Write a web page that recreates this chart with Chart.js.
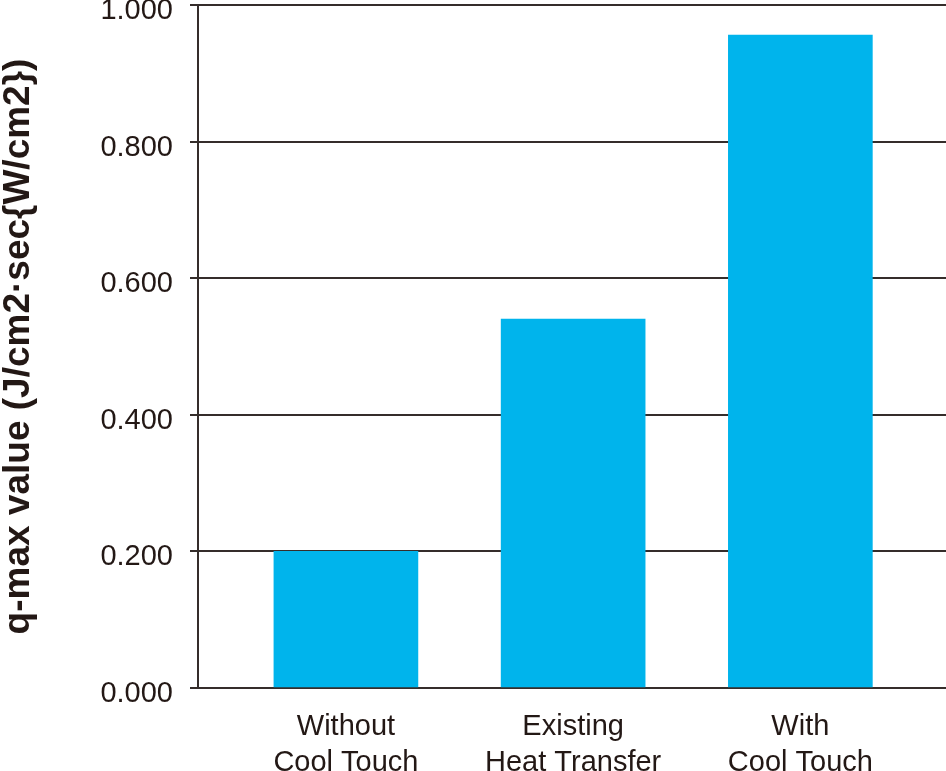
<!DOCTYPE html>
<html>
<head>
<meta charset="utf-8">
<script src="https://cdn.jsdelivr.net/npm/chart.js@4.4.1/dist/chart.umd.min.js"></script>
<style>
  html, body { margin: 0; padding: 0; background: #fff; }
  #wrap { width: 946px; height: 771px; }
</style>
</head>
<body>
<div id="wrap"><canvas id="chart" width="946" height="771"></canvas></div>
<script>
const categories = [
    ["Without", "Cool Touch"],
    ["Existing", "Heat Transfer"],
    ["With", "Cool Touch"]
];
const qmaxValues = [0.200, 0.540, 0.956];
const yTicks = [0, 0.2, 0.4, 0.6, 0.8, 1.0];

const ink = '#231815';
const lineColor = '#352d2b';

const ctx = document.getElementById('chart').getContext('2d');

new Chart(ctx, {
    type: 'bar',
    data: {
        datasets: [{
            label: 'q-max',
            data: qmaxValues.map((v, i) => ({ x: i, y: v })),
            backgroundColor: '#00b4ec',
            borderWidth: 0,
            barThickness: 144
        }]
    },
    options: {
        responsive: false,
        animation: false,
        layout: { padding: { top: 5, right: 0, left: 0, bottom: 0 } },
        plugins: {
            legend: { display: false },
            tooltip: { enabled: false }
        },
        scales: {
            x: {
                type: 'linear',
                offset: false,
                min: -0.651,
                max: 2.641,
                grid: { display: false },
                border: { display: false },
                afterBuildTicks: (scale) => {
                    scale.ticks = categories.map((c, i) => ({ value: i }));
                },
                afterFit: (scale) => {
                    scale.height = 83;
                    scale.paddingLeft = 0;
                    scale.paddingRight = 0;
                },
                ticks: {
                    autoSkip: false,
                    maxRotation: 0,
                    padding: 13,
                    color: ink,
                    font: { family: 'Liberation Sans, Arial, sans-serif', size: 29, lineHeight: '36px' },
                    callback: (v) => categories[v]
                }
            },
            y: {
                min: 0,
                max: 1,
                afterBuildTicks: (scale) => {
                    scale.ticks = yTicks.map(v => ({ value: v }));
                },
                afterFit: (scale) => {
                    scale.width = 198;
                    scale.paddingTop = 0;
                    scale.paddingBottom = 0;
                },
                grid: {
                    color: lineColor,
                    lineWidth: 2,
                    tickLength: 8,
                    drawTicks: true
                },
                border: { display: true, color: lineColor, width: 2 },
                ticks: {
                    padding: 17,
                    labelOffset: 6,
                    color: ink,
                    font: { family: 'Liberation Sans, Arial, sans-serif', size: 29 },
                    callback: (v) => Number(v).toFixed(3)
                },
                title: {
                    display: true,
                    text: 'q-max value (J/cm2·sec{W/cm2})',
                    color: ink,
                    padding: 0,
                    font: { family: 'Liberation Sans, Arial, sans-serif', size: 37, weight: 'bold', lineHeight: 1.0 }
                }
            }
        }
    }
});
</script>
</body>
</html>
